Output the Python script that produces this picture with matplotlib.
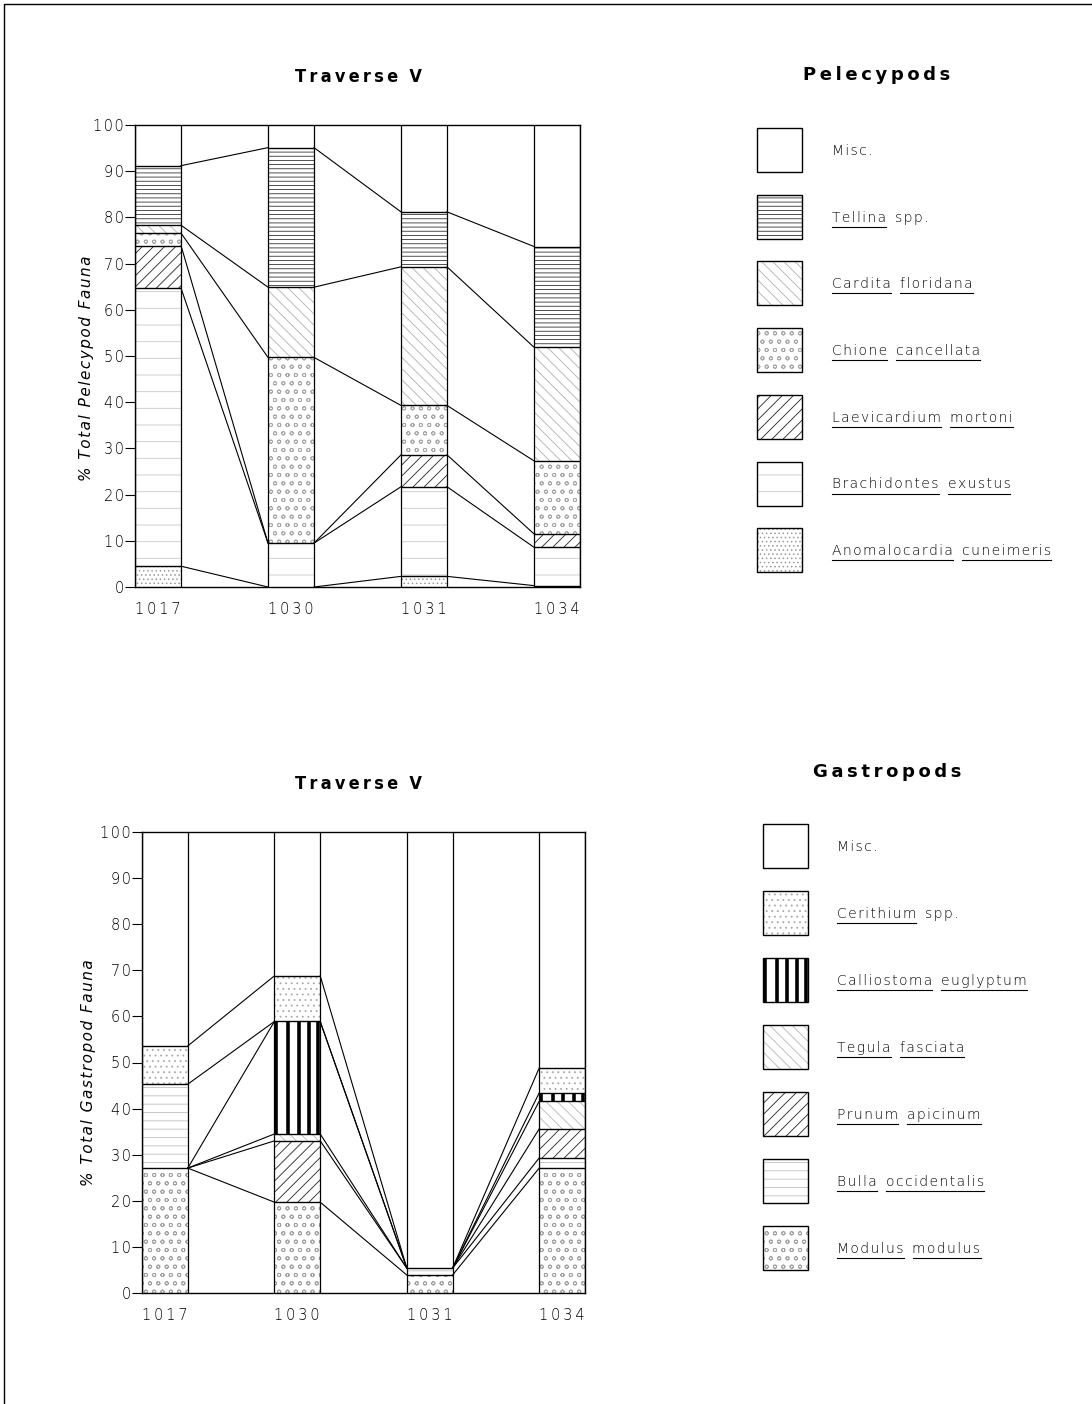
import matplotlib
matplotlib.use("Agg")
import matplotlib.pyplot as plt
from matplotlib.patches import Rectangle
import numpy as np

plt.rcParams['font.family'] = ['DejaVu Sans']
plt.rcParams['hatch.linewidth'] = 0.6

# ---------------- data ----------------
stations = ["1017", "1030", "1031", "1034"]
yticks = list(range(0, 101, 10))

# Pelecypods, % of total pelecypod fauna, bottom of column to top
pel_labels = ["Anomalocardia cuneimeris", "Brachidontes exustus", "Laevicardium mortoni",
              "Chione cancellata", "Cardita floridana", "Tellina spp."]
anomalocardia = [4.5, 0.0, 2.3, 0.3]
brachidontes = [60.2, 9.5, 19.4, 8.3]
laevicardium = [9.2, 0.0, 6.9, 2.9]
chione = [2.7, 40.2, 10.7, 15.8]
cardita = [1.7, 15.2, 30.0, 24.6]
tellina = [12.9, 30.2, 11.9, 21.8]

# Gastropods, % of total gastropod fauna
gas_labels = ["Modulus modulus", "Bulla occidentalis", "Prunum apicinum", "Tegula fasciata",
              "Calliostoma euglyptum", "Cerithium spp."]
modulus = [27.1, 19.7, 3.9, 27.1]
bulla = [18.2, 0.0, 1.5, 2.2]
prunum = [0.0, 13.3, 0.0, 6.3]
tegula = [0.0, 1.5, 0.0, 6.0]
calliostoma = [0.0, 24.4, 0.0, 1.8]
cerithium = [8.3, 9.9, 0.0, 5.4]

pel_groups = [anomalocardia, brachidontes, laevicardium, chione, cardita, tellina]
gas_groups = [modulus, bulla, prunum, tegula, calliostoma, cerithium]
pel_order = [[0, 1, 2, 3, 4, 5]] * 4
# the draftsman stacked the empty groups differently at 1017/1030
gas_order = [[0, 2, 3, 4, 1, 5], [0, 2, 3, 4, 1, 5], [0, 1, 2, 3, 4, 5], [0, 1, 2, 3, 4, 5]]

# pattern per group: (hatch, colour)
patterns = {
    "Misc.": (None, "k"),
    "Tellina spp.": ("----", "#333333"),
    "Cardita floridana": ("\\\\\\", "#b0b0b0"),
    "Chione cancellata": ("oo", "#a6a6a6"),
    "Laevicardium mortoni": ("///", "#222222"),
    "Brachidontes exustus": ("-", "#c8c8c8"),
    "Anomalocardia cuneimeris": ("....", "#9a9a9a"),
    "Cerithium spp.": ("...", "#a8a8a8"),
    "Calliostoma euglyptum": ("stripes", "k"),
    "Tegula fasciata": ("\\\\\\", "#b8b8b8"),
    "Prunum apicinum": ("///", "#222222"),
    "Bulla occidentalis": ("--", "#c0c0c0"),
    "Modulus modulus": ("oo", "#a0a0a0"),
}

W = 0.346  # column width in station units
FW, FH = 1092, 1404


def sp(s, gap="\u200a"):
    return gap.join(s)


def fill_block(ax, x0, x1, y0, y1, key):
    hatch, col = patterns[key]
    lo, hi = min(y0, y1), max(y0, y1)
    if hatch == "stripes":
        ax.vlines([x0 + f * (x1 - x0) for f in (0.04, 0.3, 0.53, 0.76, 0.96)],
                  lo, hi, color="k", lw=2.6)
    elif hatch:
        ax.add_patch(Rectangle((x0, lo), x1 - x0, hi - lo, facecolor="none",
                               edgecolor=col, hatch=hatch, lw=0))


def draw_chart(ax, groups, labels, orders):
    xs = np.arange(len(stations))
    tops = np.zeros((len(groups), len(stations)))
    for i, x in enumerate(xs):
        x0, x1 = x - W / 2, x + W / 2
        base = 0.0
        for g in orders[i]:
            v = groups[g][i]
            if v > 0:
                fill_block(ax, x0, x1, base, base + v, labels[g])
                ax.hlines(base + v, x0, x1, color="k", lw=1.0)
            base += v
            tops[g, i] = base
        ax.vlines([x0, x1], 0, 100, color="k", lw=0.9)
    for g in range(len(groups)):
        for i in range(len(stations) - 1):
            ax.plot([xs[i] + W / 2, xs[i + 1] - W / 2], tops[g, i:i + 2], color="k", lw=0.8)
    ax.set_xlim(-W / 2, len(stations) - 1 + W / 2)
    ax.set_ylim(0, 100)
    ax.set_yticks(yticks)
    ax.set_yticklabels([sp(str(t)) for t in yticks], fontweight="light")
    ax.set_xticks(xs)
    ax.set_xticklabels([sp(s, "\u2009") for s in stations], fontweight="light")
    ax.tick_params(axis="y", direction="out", length=7, width=0.8, pad=1, labelsize=10.5)
    ax.tick_params(axis="x", length=0, pad=11, labelsize=10.5)
    for s in ax.spines.values():
        s.set_linewidth(1.0)


def px_axes(fig, l, t, r, b):
    return fig.add_axes([l / FW, 1 - b / FH, (r - l) / FW, (b - t) / FH])


fig = plt.figure(figsize=(FW / 100, FH / 100), dpi=100)
over = fig.add_axes([0, 0, 1, 1])
over.set_xlim(0, FW)
over.set_ylim(FH, 0)
over.axis("off")

# sheet border
over.plot([4, 4, FW], [FH, 4, 4], color="k", lw=1.0)

ax1 = px_axes(fig, 135, 125, 580, 587)
draw_chart(ax1, pel_groups, pel_labels, pel_order)
ax2 = px_axes(fig, 142, 832, 585, 1293)
draw_chart(ax2, gas_groups, gas_labels, gas_order)

# titles and axis labels
for y in (77, 784):
    over.text(358, y, sp("Traverse", "\u2009") + "  \u2164", ha="center", va="center",
              fontsize=13, fontweight="bold", fontstretch="condensed")
over.text(877, 75, sp("Pelecypods", "\u2009"), ha="center", va="center", fontsize=13,
          fontweight="bold")
over.text(887, 772, sp("Gastropods", "\u2009"), ha="center", va="center", fontsize=13,
          fontweight="bold")
over.text(86, 368, sp("% Total Pelecypod Fauna"), rotation=90, ha="center", va="center",
          fontsize=11, style="italic", fontweight="light")
over.text(88, 1073, sp("% Total Gastropod Fauna"), rotation=90, ha="center", va="center",
          fontsize=11, style="italic", fontweight="light")

# legends
renderer = fig.canvas.get_renderer()


def legend(items, bx, top0, step, tx):
    for k, name in enumerate(items):
        y0 = top0 + k * step
        fill_block(over, bx, bx + 45, y0, y0 + 44, name)
        over.add_patch(Rectangle((bx, y0), 45, 44, facecolor="none", edgecolor="k", lw=1.0))
        x = tx
        base = y0 + 27
        for word in name.split(" "):
            t = over.text(x, base, sp(word), ha="left", va="baseline", fontsize=10,
                          fontweight="light")
            bb = t.get_window_extent(renderer)
            if word not in ("spp.", "Misc."):
                over.plot([x, x + bb.width], [base + 5, base + 5], color="k", lw=0.8)
            x += bb.width + 9


legend(["Misc."] + pel_labels[::-1], 757, 128, 66.7, 832)
legend(["Misc."] + gas_labels[::-1], 763, 824, 67.0, 837)

fig.savefig("out.png", dpi=100)
